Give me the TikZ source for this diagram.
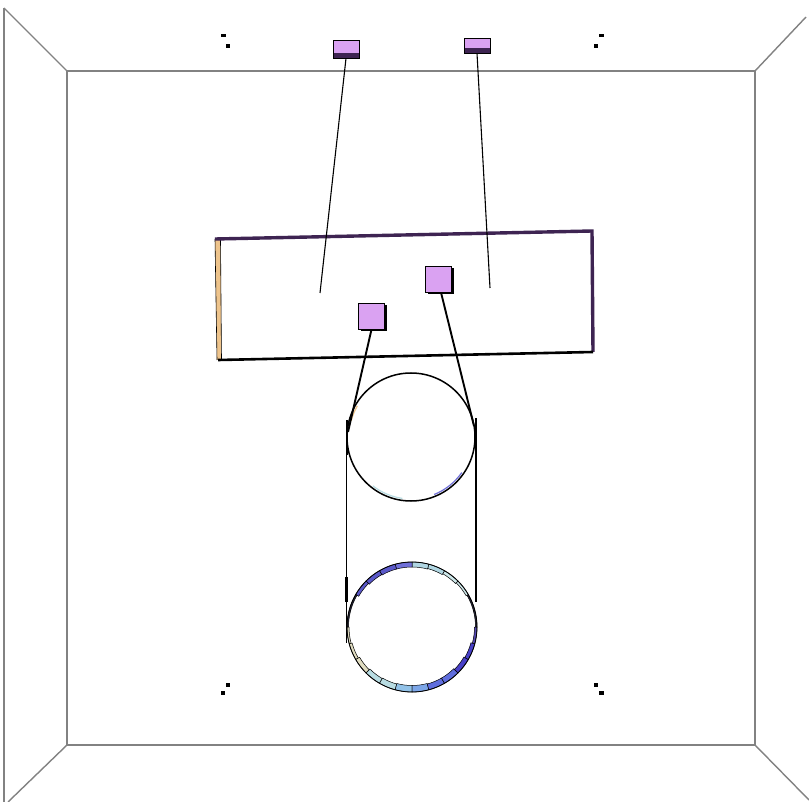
\documentclass[tikz,border=0pt]{standalone}
\usetikzlibrary{shadows}
\definecolor{lilac}{RGB}{218,162,242}
\definecolor{plum}{RGB}{62,36,82}
\definecolor{wallgray}{RGB}{130,130,130}
\definecolor{sand}{RGB}{238,196,140}
\definecolor{rA}{RGB}{84,72,176}
\definecolor{rB}{RGB}{206,232,234}
\definecolor{rC}{RGB}{176,214,226}
\definecolor{rD}{RGB}{112,112,216}
\definecolor{rE}{RGB}{90,88,200}
\definecolor{rF}{RGB}{224,220,192}
\definecolor{rG}{RGB}{184,220,226}
\definecolor{rH}{RGB}{146,194,232}
\definecolor{rI}{RGB}{124,166,232}
\definecolor{rJ}{RGB}{96,110,222}
\definecolor{rK}{RGB}{72,64,200}
\definecolor{rL}{RGB}{40,40,60}
\begin{document}
\begin{tikzpicture}[x=1pt,y=-1pt,
  wall/.style={wallgray, line width=1.4pt},
  lid/.style={rectangle, inner sep=0pt, minimum width=26pt, fill=lilac,
    draw=black, line width=0.6pt,
    path picture={\fill[plum] (path picture bounding box.south west)
      rectangle ([yshift=5pt]path picture bounding box.south east);}},
  block/.style={rectangle, inner sep=0pt, minimum size=26pt, fill=lilac,
    draw=black, line width=0.9pt,
    drop shadow={shadow xshift=2.5pt, shadow yshift=-2.5pt, fill=black, opacity=1}},
  thread/.style={black, line width=1.1pt},
  cord/.style={black, line width=1.9pt},
  speck/.style={fill=black}]
\useasboundingbox (0,0) rectangle (809,802);
\fill[white] (0,0) rectangle (809,802);

% room walls
\draw[wall] (4,8) -- (4,802);
\draw[wall] (4,8) -- (67,71);
\draw[wall] (67,71) rectangle (755,745);
\draw[wall] (755,71) -- (806,17);
\draw[wall] (67,745) -- (8,802);
\draw[wall] (755,745) -- (809,800);

% corner markers
\fill[speck] (221,34.5) rectangle (226,37.5);
\fill[speck] (225.5,44.5) rectangle (229.5,48.5);
\fill[speck] (599,34.5) rectangle (604,37.5);
\fill[speck] (593.5,44.5) rectangle (597.5,48.5);
\fill[speck] (225.5,683) rectangle (229.5,687);
\fill[speck] (220.5,691) rectangle (225,695);
\fill[speck] (593.5,683) rectangle (597.5,687);
\fill[speck] (599,691) rectangle (603.5,695);

% ceiling anchors
\node[lid, minimum height=18pt] (t1) at (346,49) {};
\node[lid, minimum height=15pt] (t2) at (477,45.5) {};

% hanging plate
\coordinate (pa) at (215,239);
\coordinate (pb) at (592,231);
\coordinate (pc) at (593,352);
\coordinate (pd) at (218,360);
\fill[sand] (215,239) -- (220.5,240) -- (221.5,360) -- (217,360) -- cycle;
\draw[black, line width=0.6pt] (215,239) -- (217,360);
\draw[black, line width=0.6pt] (220.5,240) -- (221.5,360);
\draw[plum, line width=3.4pt, line join=miter] (pa) -- (pb) -- (pc);
\draw[black, line width=2.6pt] (pc) -- (pd);

% suspension threads
\coordinate (p1) at (320,293);
\coordinate (p2) at (490,288);
\draw[thread] (t1.south) -- (p1);
\draw[thread] (t2.south) -- (p2);

% upper pulley (angles below are in canvas orientation)
\coordinate (u) at (411,437);
\draw[black, line width=1.5pt] (u) circle[radius=64pt];
\begin{scope}[shift={(411,437)}]
  \draw[rG, line width=1.2pt] (232:62pt) arc[start angle=232, end angle=262, radius=62pt];
  \draw[rD, line width=1.2pt] (292:62pt) arc[start angle=292, end angle=325, radius=62pt];
  \draw[sand, line width=1.2pt] (150:62pt) arc[start angle=150, end angle=165, radius=62pt];
\end{scope}

% lower pulley ring
\begin{scope}[shift={(412,627)}]
  \foreach \a/\col/\w in {0/rL/1.5, 15/rL/1.5, 30/rB/2.5, 45/rB/3.5, 60/rC/4.5, 75/rC/5,
      90/rD/5, 105/rE/5, 120/rE/4.5, 135/rE/3.5, 150/rL/1.5, 165/rL/1.5,
      180/rF/2, 195/rF/3, 210/rF/4.5, 225/rG/5.5, 240/rG/6, 255/rH/6.5,
      270/rI/6.5, 285/rJ/6, 300/rJ/6, 315/rK/5, 330/rK/4, 345/rA/2.5}
  {
    \pgfmathsetmacro{\b}{\a+15}
    \pgfmathsetmacro{\ri}{65-\w}
    \filldraw[fill=\col, draw=black, line width=0.5pt]
      (\a:65pt) arc[start angle=\a, end angle=\b, radius=65pt]
      -- (\b:\ri pt) arc[start angle=\b, end angle=\a, radius=\ri pt] -- cycle;
  }
  \draw[black, line width=0.8pt] (0pt,0pt) circle[radius=65pt];
\end{scope}

% blocks on the plate
\node[block] (s1) at (371.5,316) {};
\node[block] (s2) at (438,279) {};

% belt from the blocks around the pulleys
\coordinate (q1) at (348,432);
\coordinate (q2) at (474,426);
\draw[cord] (s1.south) -- (q1);
\draw[cord] ([xshift=3pt]s2.south) -- (q2);

\coordinate (v1a) at (346.5,425);
\coordinate (v1b) at (346.5,643);
\coordinate (v2a) at (476,418);
\coordinate (v2b) at (476,602);
\draw[thread] (v1a) -- (v1b);
\draw[thread] (v2a) -- (v2b);
\draw[black, line width=2.4pt] (346.5,577) -- (346.5,602);
\draw[black, line width=2.4pt] (476,562) -- (476,602);
\draw[black, line width=2.2pt] (347,420) -- (347,455);
\end{tikzpicture}
\end{document}
